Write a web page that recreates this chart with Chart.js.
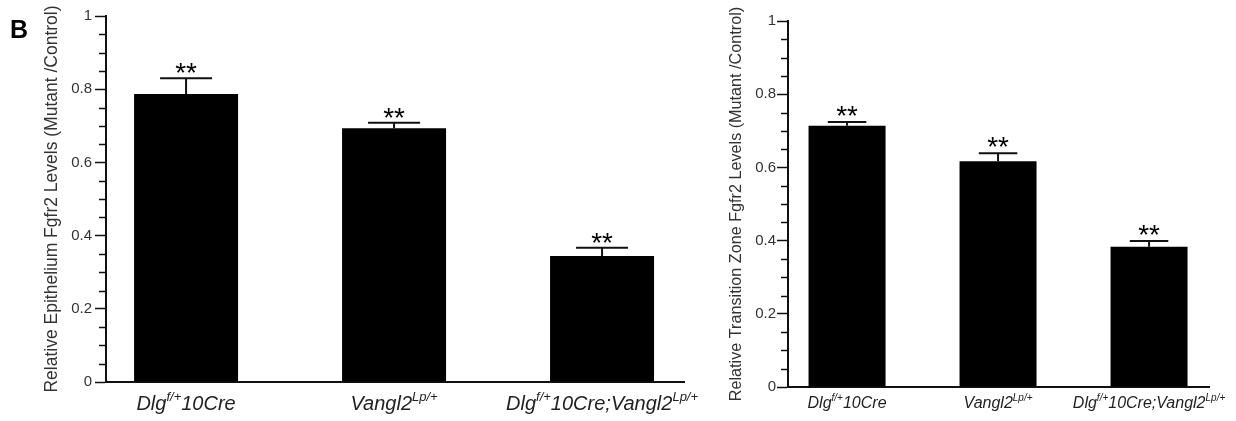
<!DOCTYPE html>
<html>
<head>
<meta charset="utf-8">
<script src="https://cdn.jsdelivr.net/npm/chart.js@4.4.1/dist/chart.umd.min.js"></script>
<style>
  html, body { margin: 0; padding: 0; background: #fff; }
  #wrap { position: relative; width: 1236px; height: 421px; overflow: hidden; }
  canvas { position: absolute; top: 0; }
  #epi { left: 0; }
  #tz { left: 700px; }
</style>
</head>
<body>
<div id="wrap">
  <canvas id="epi" width="720" height="421"></canvas>
  <canvas id="tz" width="536" height="421"></canvas>
</div>
<script>
// Genotype labels: plain runs and superscript runs
const genotypes = [
  [{ t: 'Dlg' }, { t: 'f/+', sup: true }, { t: '10Cre' }],
  [{ t: 'Vangl2' }, { t: 'Lp/+', sup: true }],
  [{ t: 'Dlg' }, { t: 'f/+', sup: true }, { t: '10Cre;Vangl2' }, { t: 'Lp/+', sup: true }]
];

// Epithelium Fgfr2 levels (mutant / control), mean and SEM
const epiMeans = [0.787, 0.693, 0.344];
const epiSem = [0.043, 0.015, 0.023];

// Transition zone Fgfr2 levels (mutant / control), mean and SEM
const tzMeans = [0.714, 0.617, 0.383];
const tzSem = [0.010, 0.022, 0.016];

// Significance marks above each bar
const marks = ['**', '**', '**'];

const yTickStep = 0.2;
const yMinorStep = 0.05;

const FONT = '"Liberation Sans", Arial, Helvetica, sans-serif';
const INK = '#111';
const TEXT = '#333';

Chart.defaults.font.family = FONT;

// Minor y ticks, error bars, significance marks and genotype labels
const decorations = {
  id: 'decorations',
  afterDatasetsDraw(chart, args, opts) {
    const { ctx, chartArea } = chart;
    const y = chart.scales.y;
    const x = chart.scales.x;
    ctx.save();

    // minor ticks on the value axis
    ctx.strokeStyle = INK;
    ctx.lineWidth = 1.5;
    for (let k = 0; k <= Math.round(1 / yMinorStep); k++) {
      const v = k * yMinorStep;
      const r = v / yTickStep;
      if (Math.abs(r - Math.round(r)) < 1e-6) continue;
      const py = Math.round(y.getPixelForValue(v)) + 0.5;
      ctx.beginPath();
      ctx.moveTo(chartArea.left - 7, py);
      ctx.lineTo(chartArea.left, py);
      ctx.stroke();
    }

    // error bars (upper whisker) and marks
    const meta = chart.getDatasetMeta(0);
    ctx.lineWidth = 2;
    ctx.strokeStyle = INK;
    opts.means.forEach((m, i) => {
      const bar = meta.data[i];
      const cx = bar.x;
      const top = y.getPixelForValue(m + opts.sem[i]);
      const base = y.getPixelForValue(m);
      const half = bar.width / 4;
      ctx.beginPath();
      ctx.moveTo(cx, base);
      ctx.lineTo(cx, top);
      ctx.moveTo(cx - half, top);
      ctx.lineTo(cx + half, top);
      ctx.stroke();

      ctx.font = opts.markSize + 'px ' + FONT;
      ctx.fillStyle = '#000';
      ctx.textAlign = 'center';
      ctx.textBaseline = 'alphabetic';
      const mm = ctx.measureText(marks[i]);
      const bottom = top - opts.markGap;
      ctx.fillText(marks[i], cx, bottom - mm.actualBoundingBoxDescent);
    });

    // genotype labels under the bars
    const size = opts.labelSize;
    const supSize = Math.round(size * 0.65);
    const mainFont = 'italic ' + size + 'px ' + FONT;
    const supFont = 'italic ' + supSize + 'px ' + FONT;
    ctx.fillStyle = '#222';
    ctx.textAlign = 'left';
    ctx.textBaseline = 'alphabetic';
    genotypes.forEach((runs, i) => {
      let total = 0;
      const widths = runs.map(r => {
        ctx.font = r.sup ? supFont : mainFont;
        const w = ctx.measureText(r.t).width;
        total += w;
        return w;
      });
      let px = x.getPixelForValue(i) - total / 2;
      runs.forEach((r, j) => {
        ctx.font = r.sup ? supFont : mainFont;
        const py = r.sup ? opts.labelBaseline - size * 0.45 : opts.labelBaseline;
        ctx.fillText(r.t, px, py);
        px += widths[j];
      });
    });

    if (opts.panel) {
      ctx.font = 'bold 25px ' + FONT;
      ctx.fillStyle = '#000';
      ctx.fillText(opts.panel, 10, 38);
    }
    ctx.restore();
  }
};

function makeChart(id, cfg) {
  return new Chart(document.getElementById(id), {
    type: 'bar',
    data: {
      datasets: [{
        data: cfg.means.map((v, i) => ({ x: i, y: v })),
        backgroundColor: '#000',
        borderWidth: 0,
        barPercentage: cfg.barPct,
        categoryPercentage: 1
      }]
    },
    options: {
      responsive: false,
      animation: false,
      layout: { padding: { top: cfg.top, right: cfg.right, left: 0, bottom: 0 } },
      plugins: {
        legend: { display: false },
        tooltip: { enabled: false },
        decorations: cfg.deco
      },
      scales: {
        x: {
          type: 'linear',
          min: cfg.xMin,
          max: cfg.xMax,
          offset: false,
          afterBuildTicks: s => { s.ticks = genotypes.map((g, i) => ({ value: i })); },
          ticks: { display: false },
          grid: { display: false, offset: false },
          border: { display: true, color: INK, width: 2 },
          afterFit: s => { s.height = cfg.bottom; }
        },
        y: {
          min: 0,
          max: 1,
          ticks: {
            stepSize: yTickStep,
            color: TEXT,
            font: { size: 15 },
            padding: cfg.tickPad,
            callback: v => String(Number(v.toFixed(2)))
          },
          grid: {
            display: true,
            drawOnChartArea: false,
            drawTicks: true,
            tickLength: 11,
            tickWidth: 1.5,
            tickColor: INK
          },
          border: { display: true, color: INK, width: 2 },
          title: {
            display: true,
            text: cfg.title,
            color: TEXT,
            font: { size: cfg.titleSize },
            padding: { top: cfg.titlePad, bottom: 0 }
          },
          afterFit: s => { s.width = cfg.axisX; }
        }
      }
    },
    plugins: [decorations]
  });
}

makeChart('epi', {
  means: epiMeans,
  title: 'Relative Epithelium Fgfr2 Levels (Mutant /Control)',
  titleSize: 17.5,
  titlePad: 42,
  axisX: 106,
  top: 16,
  bottom: 39,
  right: 720 - 684,
  xMin: -0.385,
  xMax: 2.394,
  barPct: 0.5,
  tickPad: 3,
  deco: { means: epiMeans, sem: epiSem, markSize: 28, markGap: 5, labelSize: 20, labelBaseline: 410, panel: 'B' }
});

makeChart('tz', {
  means: tzMeans,
  title: 'Relative Transition Zone Fgfr2 Levels (Mutant /Control)',
  titleSize: 16.2,
  titlePad: 27,
  axisX: 88,
  top: 21,
  bottom: 34,
  right: 536 - 509,
  xMin: -0.391,
  xMax: 2.397,
  barPct: 0.51,
  tickPad: 1,
  deco: { means: tzMeans, sem: tzSem, markSize: 28, markGap: 6, labelSize: 16, labelBaseline: 408, panel: '' }
});
</script>
</body>
</html>
